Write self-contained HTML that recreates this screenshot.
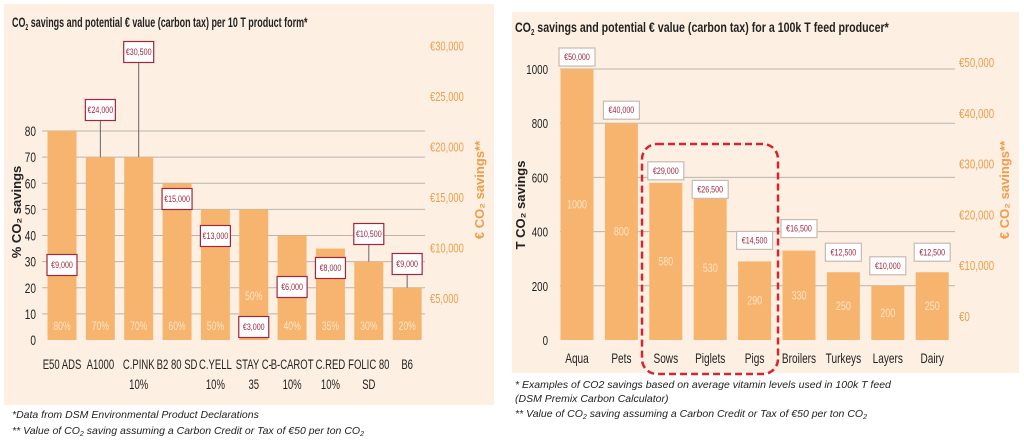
<!DOCTYPE html>
<html><head><meta charset="utf-8"><style>
html,body{margin:0;padding:0;background:#fff;width:1024px;height:442px;overflow:hidden}
svg{display:block;font-family:"Liberation Sans",sans-serif}
.fn{font-family:"Liberation Sans",sans-serif;font-style:italic;font-size:10.5px;fill:#222}
</style></head><body>
<svg id="c" width="1024" height="442" viewBox="0 0 1024 442">
<rect x="4" y="4" width="490" height="401" fill="#fdf0e3"/>
<rect x="512" y="12" width="507" height="361" fill="#fdf0e3"/>
<g transform="translate(12,27) scale(0.64,1)"><text x="0" y="0" font-size="14" font-weight="bold" fill="#222">CO<tspan font-size="8" dy="3">2</tspan><tspan dy="-3"> savings and potential € value (carbon tax) per 10 T product form*</tspan></text></g>
<g transform="translate(515,32) scale(0.76,1)"><text x="0" y="0" font-size="14" font-weight="bold" fill="#222">CO<tspan font-size="8" dy="3">2</tspan><tspan dy="-3"> savings and potential € value (carbon tax) for a 100k T feed producer*</tspan></text></g>
<g id="L"></g><g id="R"></g>
<text x="12" y="418" class="fn">*Data from DSM Environmental Product Declarations</text>
<text x="12" y="434" class="fn">** Value of CO<tspan font-size="7" dy="2">2</tspan><tspan dy="-2"> saving assuming a Carbon Credit or Tax of €50 per ton CO</tspan><tspan font-size="7" dy="2">2</tspan></text>
<text x="515" y="388" class="fn">* Examples of CO2 savings based on average vitamin levels used in 100k T feed</text>
<text x="515" y="402" class="fn">(DSM Premix Carbon Calculator)</text>
<text x="515" y="417" class="fn">** Value of CO<tspan font-size="7" dy="2">2</tspan><tspan dy="-2"> saving assuming a Carbon Credit or Tax of €50 per ton CO</tspan><tspan font-size="7" dy="2">2</tspan></text>
</svg>
<script>
const leftCats=[["E50 ADS"],["A1000"],["C.PINK","10%"],["B2 80 SD"],["C.YELL","10%"],["STAY  C-","35"],["B-CAROT","10%"],["C.RED","10%"],["FOLIC 80","SD"],["B6"]];
const leftPct=[80,70,70,60,50,50,40,35,30,20];
const leftEuro=["€9,000","€24,000","€30,500","€15,000","€13,000","€3,000","€6,000","€8,000","€10,500","€9,000"];
const leftBoxY=[265,110,52,199,236,327,287,268,234,264];
const leftTicks=[0,10,20,30,40,50,60,70,80];
const leftEuroTicks=["€5,000","€10,000","€15,000","€20,000","€25,000","€30,000"];
const rightCats=["Aqua","Pets","Sows","Piglets","Pigs","Broilers","Turkeys","Layers","Dairy"];
const rightT=[1000,800,580,530,290,330,250,200,250];
const rightEuro=["€50,000","€40,000","€29,000","€26,500","€14,500","€16,500","€12,500","€10,000","€12,500"];
const rightBoxGap=[12,13,12,7,21,22,20,20,20];
const rightTicks=[0,200,400,600,800,1000];
const rightEuroTicks=["€0","€10,000","€20,000","€30,000","€40,000","€50,000"];
const NS="http://www.w3.org/2000/svg";
function mk(p,t,a,txt){const e=document.createElementNS(NS,t);for(const k in a)e.setAttribute(k,a[k]);if(txt!=null)e.textContent=txt;p.appendChild(e);return e;}
function ct(p,x,y,txt,a,sx){const g=mk(p,"g",{transform:`translate(${x},${y}) scale(${sx||0.72},1)`});a.x=0;a.y=0;return mk(g,"text",a,txt);}
const BAR="#f6b46e",GRID="#b9b4ae",ORG="#ef9c4a",RED="#a3263c";
function box(g,cx,cy,w,h,txt,stroke){mk(g,"rect",{x:cx-w/2,y:cy-h/2,width:w,height:h,fill:"#fff",stroke:stroke,"stroke-width":1.2});
 return ct(g,cx,cy+3,txt,{"text-anchor":"middle","font-size":9.5,fill:RED},0.75);}
// LEFT
(function(){const g=document.getElementById("L");
 const y=v=>340-v*(209/80), x=i=>62+i*38.35;
 leftTicks.forEach(v=>{if(v>0){const l=mk(g,"line",{x1:42,x2:425,y1:y(v),y2:y(v),stroke:GRID,"stroke-width":1});}
  const t=ct(g,36,y(v)+5,v,{"text-anchor":"end","font-size":14,fill:"#222"});});
 leftEuroTicks.forEach((s,i)=>{const t=ct(g,430,303-i*50.5,s,{"font-size":13,fill:ORG},0.72);});
 const yt=mk(g,"text",{x:0,y:0,transform:"translate(21,212) rotate(-90)","text-anchor":"middle","font-size":13,"font-weight":"bold",fill:"#222"},"% CO₂ savings");
 const yr=mk(g,"text",{x:0,y:0,transform:"translate(484,190) rotate(-90)","text-anchor":"middle","font-size":13,"font-weight":"bold",fill:ORG},"€ CO₂ savings**");
 leftPct.forEach((v,i)=>{const cx=x(i);
  const b=mk(g,"rect",{x:cx-14.5,y:y(v),width:29,height:340-y(v),fill:BAR});
  const by=leftBoxY[i];if(by+11<y(v)){const ln=mk(g,"line",{x1:cx,x2:cx,y1:by+11,y2:y(v),stroke:"#666","stroke-width":1});}
  const pl=ct(g,cx,(i==5?300:330),v+"%",{"text-anchor":"middle","font-size":12,fill:"#fde5c8"},0.72);
  const bt=box(g,cx,by,30,21,leftEuro[i],RED);
  leftCats[i].forEach((s,k)=>{const t=ct(g,cx,369+k*20,s,{"text-anchor":"middle","font-size":14,fill:"#222"},0.68);});
 });})();
// RIGHT
(function(){const g=document.getElementById("R");
 const y=v=>340-v*(271/1000), x=i=>577+i*44.4;
 rightTicks.forEach(v=>{if(v>0){const l=mk(g,"line",{x1:560,x2:955,y1:y(v),y2:y(v),stroke:GRID,"stroke-width":1});}
  const t=ct(g,548,y(v)+5,v,{"text-anchor":"end","font-size":13,fill:"#222"},0.75);});
 rightEuroTicks.forEach((s,i)=>{const t=ct(g,959,321-i*50.8,s,{"font-size":13,fill:ORG},0.75);});
 const yt=mk(g,"text",{x:0,y:0,transform:"translate(525,205) rotate(-90)","text-anchor":"middle","font-size":13,"font-weight":"bold",fill:"#222"},"T CO₂ savings");
 const yr=mk(g,"text",{x:0,y:0,transform:"translate(1009,190) rotate(-90)","text-anchor":"middle","font-size":13,"font-weight":"bold",fill:ORG},"€ CO₂ savings**");
 rightT.forEach((v,i)=>{const cx=x(i);
  const b=mk(g,"rect",{x:cx-16.5,y:y(v),width:33,height:340-y(v),fill:BAR});
  const pl=ct(g,cx,(y(v)+340)/2+4,v,{"text-anchor":"middle","font-size":12,fill:"#fde5c8"},0.75);
  const bt=box(g,cx,y(v)-rightBoxGap[i],36,18,rightEuro[i],"#c9b9b0");
  const t=ct(g,cx,363,rightCats[i],{"text-anchor":"middle","font-size":14,fill:"#222"},0.72);
 });
 const d=mk(g,"rect",{x:642,y:144,width:136,height:230,rx:15,fill:"none",stroke:"#d42630","stroke-width":2.5,"stroke-dasharray":"7,4"});
})();
</script>
</body></html>
